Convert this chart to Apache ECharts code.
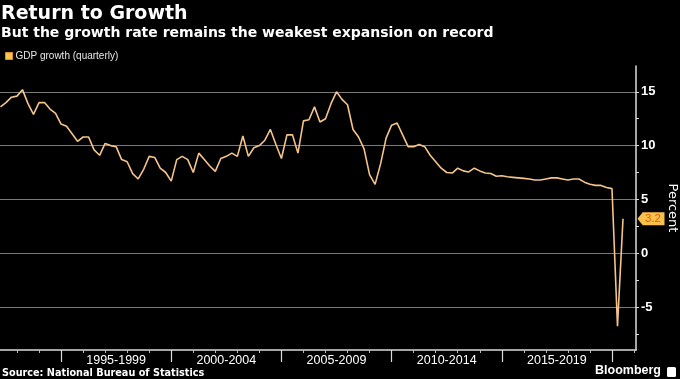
<!DOCTYPE html>
<html>
<head>
<meta charset="utf-8">
<script src="https://cdn.jsdelivr.net/npm/echarts@6/dist/echarts.min.js"></script>
<style>html,body{margin:0;padding:0;background:#000;}#c{width:680px;height:379px;}</style>
</head>
<body>
<div id="c"></div>
<script>
// Quarterly periods (1992Q1 .. 2020Q2)
var firstYear = 1992;
var gdpGrowth = [
  13.6, 14.0, 14.5, 14.6,   // 1992
  15.2, 13.9, 12.9, 14.0,   // 1993
  14.0, 13.4, 13.0, 12.0,   // 1994
  11.8, 11.1, 10.4, 10.8,   // 1995
  10.8, 9.6, 9.1, 10.2,     // 1996
  10.0, 9.9, 8.7, 8.5,      // 1997
  7.4, 6.9, 7.8, 9.0,       // 1998
  8.9, 7.9, 7.5, 6.7,       // 1999
  8.7, 9.0, 8.7, 7.5,       // 2000
  9.3, 8.7, 8.1, 7.6,       // 2001
  8.8, 9.0, 9.3, 9.0,       // 2002
  10.9, 9.0, 9.8, 10.0,     // 2003
  10.5, 11.5, 10.1, 8.8,    // 2004
  11.0, 11.0, 9.3, 12.3,    // 2005
  12.4, 13.6, 12.2, 12.5,   // 2006
  13.9, 15.0, 14.3, 13.8,   // 2007
  11.5, 10.8, 9.7, 7.3,     // 2008
  6.4, 8.3, 10.7, 11.9,     // 2009
  12.1, 11.0, 9.9, 9.9,     // 2010
  10.1, 9.9, 9.1, 8.5,      // 2011
  7.9, 7.5, 7.45, 7.9,      // 2012
  7.65, 7.55, 7.9, 7.65,    // 2013
  7.45, 7.4, 7.15, 7.2,     // 2014
  7.1, 7.05, 7.0, 6.95,     // 2015
  6.9, 6.8, 6.8, 6.9,       // 2016
  7.0, 7.0, 6.9, 6.8,       // 2017
  6.9, 6.9, 6.6, 6.4,       // 2018
  6.3, 6.3, 6.1, 6.0,       // 2019
  -6.8, 3.2                 // 2020
];
var quarters = gdpGrowth.map(function (v, i) {
  return (firstYear + Math.floor(i / 4)) + 'Q' + (i % 4 + 1);
});
var periodStarts = [1995, 2000, 2005, 2010, 2015, 2020];
var periodLabels = ['1995-1999', '2000-2004', '2005-2009', '2010-2014', '2015-2019'];
var yearTicks = [1993,1994,1995,1996,1997,1998,1999,2000,2001,2002,2003,2004,2005,2006,2007,2008,2009,2010,2011,2012,2013,2014,2015,2016,2017,2018,2019,2020,2021];
var yLabels = [-5, 0, 5, 10, 15];
var yMinorTicks = [-7.5, -5, -2.5, 0, 2.5, 5, 7.5, 10, 12.5, 15];

// quarter-end position on a numeric time axis
function qx(label) {
  var y = parseInt(label.slice(0, 4), 10);
  var q = parseInt(label.slice(5), 10);
  return y + q / 4;
}
var seriesData = quarters.map(function (q, i) { return [qx(q), gdpGrowth[i]]; });
var last = seriesData[seriesData.length - 1];
var labelCenters = periodLabels.map(function (l, i) { return periodStarts[i] + 2.5; });

var X_MIN = 1992.23, X_MAX = 2021.09, Y_MIN = -9, Y_MAX = 17.4;

var chart = echarts.init(document.getElementById('c'), null, {renderer: 'canvas'});
chart.setOption({
  backgroundColor: '#000',
  animation: false,
  title: [
    {text: 'Return to Growth', left: 1, top: 4.5, padding: 0,
     textStyle: {color: '#fff', fontFamily: 'DejaVu Sans', fontWeight: 'bold', fontSize: 19}},
    {text: 'But the growth rate remains the weakest expansion on record', left: 1, top: 26, padding: 0,
     textStyle: {color: '#fff', fontFamily: 'DejaVu Sans', fontWeight: 'bold', fontSize: 14}},
    {text: 'Source: National Bureau of Statistics', left: 2, top: 368, padding: 0,
     textStyle: {color: '#fff', fontFamily: 'DejaVu Sans', fontWeight: 'bold', fontSize: 9.7}},
    {text: 'Bloomberg', left: 595, top: 364.5, padding: 0,
     textStyle: {color: '#fff', fontFamily: 'Liberation Sans', fontWeight: 'bold', fontSize: 12.5}}
  ],
  graphic: [
    {type: 'rect', left: 667, top: 367, shape: {width: 9, height: 10, r: 1.5}, style: {fill: '#fff'}}
  ],
  legend: {
    left: 5, top: 51, padding: 0, itemWidth: 7, itemHeight: 7, itemGap: 10,
    icon: 'rect',
    textStyle: {color: '#e6e6e6', fontFamily: 'Liberation Sans', fontSize: 10, padding: [0,0,0,-2]},
    data: [{name: 'GDP growth (quarterly)', itemStyle: {color: '#f7c64a', borderColor: '#e8862a', borderWidth: 1}}]
  },
  grid: {left: 0, right: 44, top: 66, bottom: 29, containLabel: false, outerBoundsMode: 'none'},
  xAxis: [
    {type: 'value', min: X_MIN, max: X_MAX, position: 'bottom',
     axisLine: {show: true, onZero: false, lineStyle: {color: '#dcdcdc', width: 1.5}},
     axisTick: {show: true, customValues: yearTicks, length: 3, lineStyle: {color: '#bbb', width: 1}},
     axisLabel: {show: false}, splitLine: {show: false}},
    {type: 'value', min: X_MIN, max: X_MAX, position: 'bottom', offset: 0,
     axisLine: {show: false, onZero: false},
     axisTick: {show: true, customValues: periodStarts, length: 12, lineStyle: {color: '#dcdcdc', width: 1.2}},
     axisLabel: {show: true, customValues: labelCenters, margin: 4, color: '#fff',
       fontFamily: 'Liberation Sans', fontSize: 12.5,
       formatter: function (v) {
         var k = labelCenters.indexOf(v);
         return k >= 0 ? periodLabels[k] : '';
       }},
     splitLine: {show: false}}
  ],
  yAxis: [
    {type: 'value', min: Y_MIN, max: Y_MAX, position: 'right', offset: 0,
     name: 'Percent', nameLocation: 'middle', nameRotate: -90, nameGap: 28,
     nameTextStyle: {color: '#fff', fontFamily: 'DejaVu Sans', fontSize: 13},
     axisLine: {show: true, onZero: false, lineStyle: {color: '#dcdcdc', width: 1.5}},
     axisTick: {show: true, inside: false, customValues: yMinorTicks, length: 3, lineStyle: {color: '#dcdcdc'}},
     axisLabel: {show: true, customValues: yLabels, margin: 5, color: '#fff',
       fontFamily: 'Liberation Sans', fontWeight: 'bold', fontSize: 13},
     splitLine: {show: false}},
    {type: 'value', min: Y_MIN, max: Y_MAX, position: 'right', offset: 0,
     axisLine: {show: false, onZero: false}, axisLabel: {show: false},
     axisTick: {show: false, customValues: yLabels},
     splitLine: {show: true, lineStyle: {color: '#7a7a7a', width: 1.2}}}
  ],
  series: [{
    name: 'GDP growth (quarterly)',
    type: 'line',
    xAxisIndex: 0, yAxisIndex: 0,
    data: seriesData,
    showSymbol: false,
    symbol: 'none',
    lineStyle: {color: '#f4c48a', width: 1.6},
    itemStyle: {color: '#f4c48a'},
    markPoint: {
      silent: true,
      symbol: 'path://M0,6.5 L5,0 L26,0 L26,13 L5,13 Z',
      symbolSize: [27, 13],
      symbolOffset: [28, 0],
      itemStyle: {color: '#fbc04a'},
      label: {show: true, position: 'inside', offset: [2, 0.5], color: '#d9600f',
        textBorderWidth: 0, textBorderColor: 'transparent', textShadowBlur: 0,
        fontFamily: 'Liberation Sans', fontSize: 11.5,
        formatter: function (p) { return String(p.value); }},
      data: [{coord: last, value: last[1]}]
    }
  }]
});
</script>
</body>
</html>
